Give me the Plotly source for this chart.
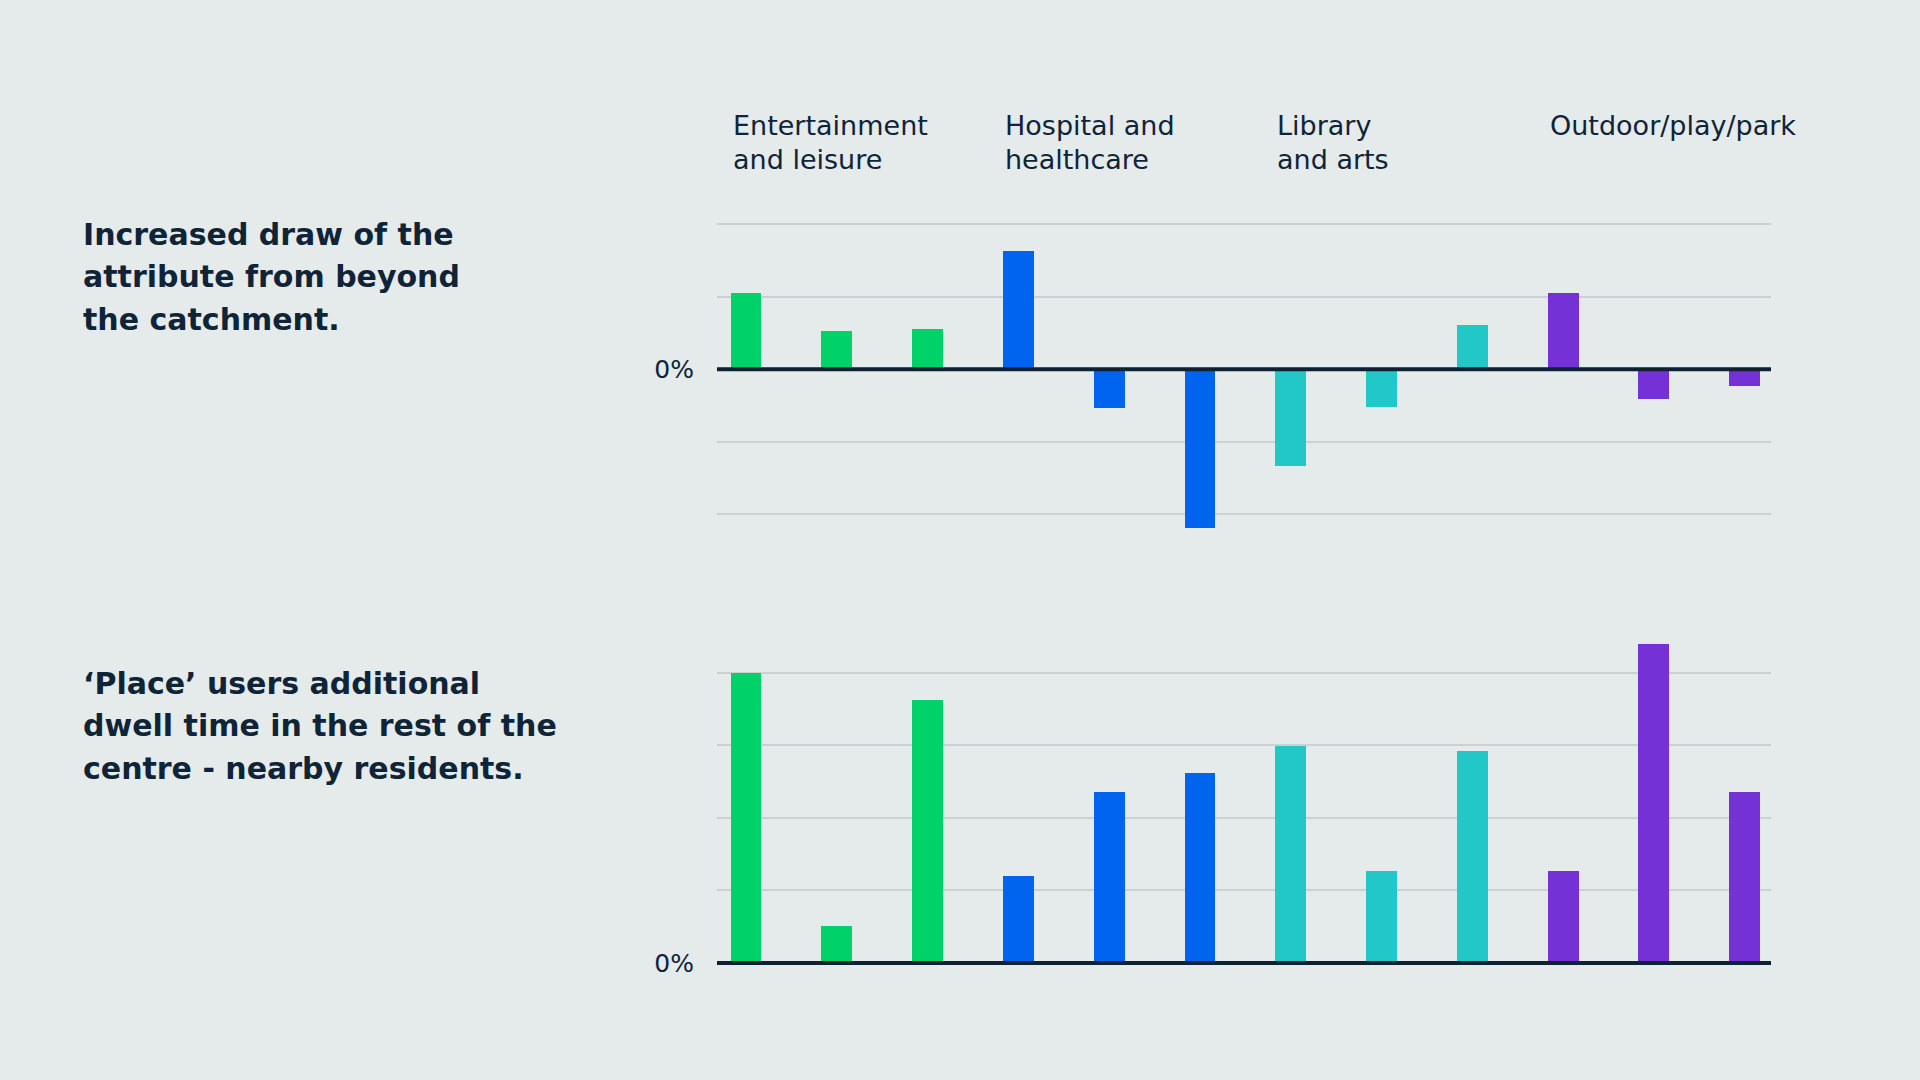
import plotly.graph_objects as go

categories = list(range(12))
group_lines = [["Entertainment", "and leisure"], ["Hospital and", "healthcare"],
               ["Library", "and arts"], ["Outdoor/play/park"]]
group_colors = ["#00d26a", "#0064ee", "#22c7c7", "#7331d6"]
group_of_bar = [0, 0, 0, 1, 1, 1, 2, 2, 2, 3, 3, 3]

draw_values = [1.06, 0.53, 0.56, 1.64, -0.53, -2.19, -1.33, -0.51, 0.62, 1.06, -0.40, -0.22]
dwell_values = [3.99, 0.50, 3.62, 1.20, 2.36, 2.62, 2.99, 1.26, 2.92, 1.26, 4.39, 2.36]

title_top = ["Increased draw of the", "attribute from beyond", "the catchment."]
title_bottom = ["‘Place’ users additional", "dwell time in the rest of the",
                "centre - nearby residents."]

BG = "#e5eaeb"
INK = "#0f2437"
GRID = "#cbd0d3"
FONT = "DejaVu Sans"
BAR_W = 0.34
F = 0.9893  # vertical render factor compensation


def py(t):
    return 1 - t / (1080 * F)


bar_colors = [group_colors[g] for g in group_of_bar]

fig = go.Figure()
fig.add_trace(go.Bar(x=categories, y=draw_values, marker_color=bar_colors,
                     marker_line_width=0, width=BAR_W, xaxis="x", yaxis="y",
                     showlegend=False, hoverinfo="skip"))
fig.add_trace(go.Bar(x=categories, y=dwell_values, marker_color=bar_colors,
                     marker_line_width=0, width=BAR_W, xaxis="x2", yaxis="y2",
                     showlegend=False, hoverinfo="skip"))

x_dom = [717 / 1920, 1771 / 1920]
x_range = [-0.32, 11.29]

axis_common = dict(showline=False, ticks="", ticklabelstandoff=22,
                   tickfont=dict(family=FONT, size=25, color=INK),
                   gridcolor=GRID, gridwidth=2, zeroline=False, fixedrange=True)

fig.update_layout(
    width=1920, height=1080,
    margin=dict(l=0, r=0, t=0, b=0),
    paper_bgcolor=BG, plot_bgcolor=BG,
    bargap=0,
    xaxis=dict(domain=x_dom, range=x_range, showticklabels=False, showgrid=False,
               zeroline=False, anchor="y"),
    xaxis2=dict(domain=x_dom, range=x_range, showticklabels=False, showgrid=False,
                zeroline=False, anchor="y2"),
    yaxis=dict(domain=[py(532.1), py(222.5)], range=[-2.25, 2.02],
               tickvals=[-2, -1, 0, 1, 2], ticktext=["", "", "0%", "", ""],
               anchor="x", **axis_common),
    yaxis2=dict(domain=[py(966.1), py(639.9)], range=[-0.05, 4.45],
                tickvals=[0, 1, 2, 3, 4], ticktext=["0%", "", "", "", ""],
                anchor="x2", **axis_common),
)

# zero reference lines on top of bars
for xr, yr in (("x domain", "y"), ("x2 domain", "y2")):
    fig.add_shape(type="line", xref=xr, yref=yr, x0=0, x1=1, y0=0, y1=0,
                  line=dict(color="#0e2233", width=4), layer="above")

# group labels, left-aligned to first bar of each group
for gi, lines in enumerate(group_lines):
    first = group_of_bar.index(gi)
    for li, line in enumerate(lines):
        fig.add_annotation(x=categories[first] - BAR_W / 2, xref="x",
                           y=py(125 + 34 * li), yref="paper",
                           text=line, showarrow=False, xanchor="left", yanchor="middle",
                           align="left", font=dict(family=FONT, size=27, color=INK))

for lines, y0 in ((title_top, 234), (title_bottom, 683)):
    for li, line in enumerate(lines):
        fig.add_annotation(x=81 / 1920, xref="paper", y=py(y0 + 42.5 * li), yref="paper",
                           text="<b>" + line + "</b>",
                           showarrow=False, xanchor="left", yanchor="middle", align="left",
                           font=dict(family=FONT, size=30, color=INK))

fig.write_html("out.html")
